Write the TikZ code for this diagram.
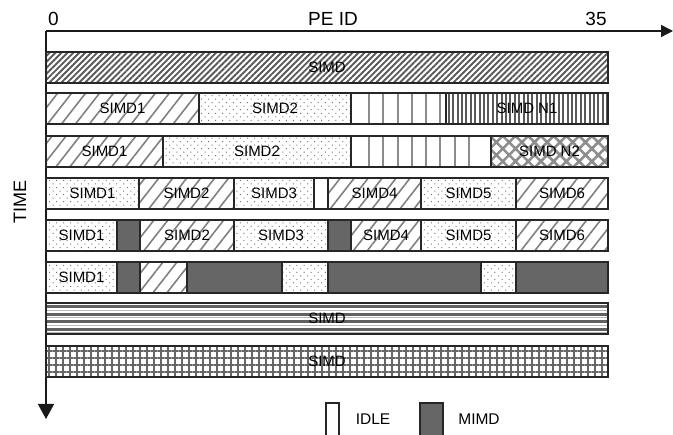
\documentclass[tikz,border=0pt]{standalone}
\usepackage{fontspec}
\setmainfont{Liberation Sans}
\usetikzlibrary{patterns.meta,arrows.meta}
\tikzset{
  seg/.style={draw=black!85, line width=1.1pt, anchor=north west, minimum height=31pt,
    inner sep=0pt, outer sep=0pt, font=\fontsize{15}{15}\selectfont},
  segborder/.style={draw=black!85, line width=1.1pt},
  hatchdark/.style={pattern={Lines[angle=45,distance=4.2pt,line width=1.9pt]}, pattern color=black!65},
  hatchlight/.style={pattern={Lines[angle=52,distance=11pt,line width=1.6pt]}, pattern color=black!50},
  dotfill/.style={pattern={Dots[angle=45,distance=5pt,radius=0.7pt]}, pattern color=black!55},
  vlinefill/.style={pattern={Lines[angle=90,distance=4.4pt,line width=2pt]}, pattern color=black!65},
  xhatch/.style={pattern={Hatch[angle=45,distance=9pt,line width=2.6pt]}, pattern color=black!45},
  darkstripe/.style={draw=black!62, line width=2.8pt},
  lightstripe/.style={draw=black!28, line width=1.3pt},
  gridfill/.style={pattern={Hatch[angle=0,distance=7pt,line width=1.6pt]}, pattern color=black!60},
  mimd/.style={fill=black!60},
  idle/.style={fill=white},
  idleline/.style={draw=black!45, line width=1.5pt},
  axis/.style={draw=black!90, line width=1.4pt},
  axlabel/.style={font=\fontsize{19}{19}\selectfont, inner sep=0pt},
  seglabel/.style={font=\fontsize{15}{15}\selectfont, inner sep=0pt},
  legtext/.style={font=\fontsize{15.5}{15.5}\selectfont, inner sep=0pt},
  legbox/.style={draw=black!85, line width=1.1pt, anchor=north west, minimum height=34pt, inner sep=0pt, outer sep=0pt},
}
\newcommand\seg[6]{%
  \pgfmathsetmacro\segw{#3-#2}%
  \node[seg,#5,minimum width=\segw pt] (#1) at (#2,#4) {#6};}
\begin{document}
\begin{tikzpicture}[x=1pt,y=-1pt]
\useasboundingbox (0,0) rectangle (673,435);
% axes
\coordinate (O) at (46,31);
\coordinate (xend) at (673,31);
\coordinate (yend) at (46,419);
\draw[axis,-{Triangle[length=12pt,width=12pt]}] (O) -- (xend);
\draw[axis,-{Triangle[length=15pt,width=16pt]}] (O) -- (yend);
\node[axlabel] (zero) at (53.5,19) {0};
\node[axlabel] (peid) at (333,19) {PE ID};
\node[axlabel] (thirtyfive) at (596,19) {35};
\node[axlabel,font=\fontsize{18}{18}\selectfont,rotate=90] (time) at (20,202) {TIME};
% row 1
\seg{r1a}{46}{608}{52}{hatchdark}{SIMD}
% row 2
\seg{r2a}{46}{199}{93}{hatchlight}{SIMD1}
\seg{r2b}{199}{351}{93}{dotfill}{SIMD2}
\seg{r2c}{351}{446}{93}{idle}{}
\foreach \x in {369,383,398,412,426,440} \draw[idleline] (\x,93.6) -- (\x,123.4);
\seg{r2d}{446}{608}{93}{vlinefill}{SIMD N1}
% row 3
\seg{r3a}{46}{163}{136}{hatchlight}{SIMD1}
\seg{r3b}{163}{351}{136}{dotfill}{SIMD2}
\seg{r3c}{351}{491}{136}{idle}{}
\foreach \x in {369,383,398,412,426,440,455,469} \draw[idleline] (\x,136.6) -- (\x,166.4);
\seg{r3d}{491}{608}{136}{xhatch}{SIMD N2}
% row 4
\seg{r4a}{46}{139}{178}{dotfill}{SIMD1}
\seg{r4b}{139}{234}{178}{hatchlight}{SIMD2}
\seg{r4c}{234}{314}{178}{dotfill}{SIMD3}
\seg{r4d}{314}{328}{178}{idle}{}
\seg{r4e}{328}{421}{178}{hatchlight}{SIMD4}
\seg{r4f}{421}{516}{178}{dotfill}{SIMD5}
\seg{r4g}{516}{608}{178}{hatchlight}{SIMD6}
% row 5
\seg{r5a}{46}{117}{220}{dotfill}{SIMD1}
\seg{r5b}{117}{140}{220}{mimd}{}
\seg{r5c}{140}{234}{220}{hatchlight}{SIMD2}
\seg{r5d}{234}{328}{220}{dotfill}{SIMD3}
\seg{r5e}{328}{351}{220}{mimd}{}
\seg{r5f}{351}{421}{220}{hatchlight}{SIMD4}
\seg{r5g}{421}{516}{220}{dotfill}{SIMD5}
\seg{r5h}{516}{608}{220}{hatchlight}{SIMD6}
% row 6
\seg{r6a}{46}{117}{262}{dotfill}{SIMD1}
\seg{r6b}{117}{140}{262}{mimd}{}
\seg{r6c}{140}{187}{262}{hatchlight}{}
\seg{r6d}{187}{282}{262}{mimd}{}
\seg{r6e}{282}{328}{262}{dotfill}{}
\seg{r6f}{328}{481}{262}{mimd}{}
\seg{r6g}{481}{516}{262}{dotfill}{}
\seg{r6h}{516}{608}{262}{mimd}{}
% row 7 (horizontal stripes)
\seg{r7a}{46}{608}{303}{idle}{}
\foreach \k in {0,1,2,3} {
  \draw[darkstripe] (46.6,{306.6+7.6*\k}) -- (607.4,{306.6+7.6*\k});
  \draw[lightstripe] (46.6,{310.2+7.6*\k}) -- (607.4,{310.2+7.6*\k});
}
\draw[segborder] (r7a.north west) rectangle (r7a.south east);
\node[seglabel] (r7lab) at (r7a.center) {SIMD};
% row 8
\seg{r8a}{46}{608}{346}{gridfill}{SIMD}
% legend
\node[legbox,idle,minimum width=13pt] (legidle) at (326,403) {};
\node[legtext] (legidletxt) at (373,419) {IDLE};
\node[legbox,mimd,minimum width=23pt] (legmimd) at (420,403) {};
\node[legtext] (legmimdtxt) at (479,419) {MIMD};
\end{tikzpicture}
\end{document}
